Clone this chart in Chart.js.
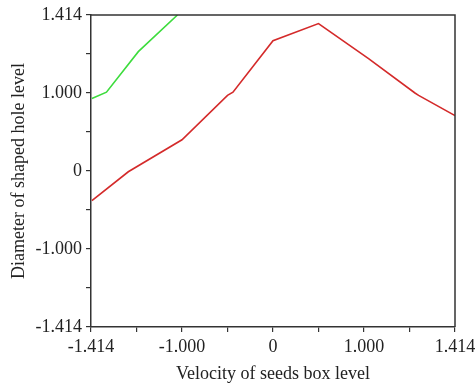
<!DOCTYPE html>
<html lang="en">
<head>
    <meta charset="UTF-8">
    <title>Diameter of shaped hole level vs Velocity of seeds box level</title>
    <script src="https://cdn.jsdelivr.net/npm/chart.js"></script>
    <style>
        html, body {
            margin: 0;
            padding: 0;
            background: #fff;
        }
        #wrap {
            width: 476px;
            height: 387px;
        }
    </style>
</head>
<body>
    <div id="wrap"><canvas id="chart" width="476" height="387"></canvas></div>

    <script>
        // coded axis positions and the labels printed at them
        const tickPositions = [-2, -1, 0, 1, 2];
        const tickLabels = ["-1.414", "-1.000", "0", "1.000", "1.414"];

        // red curve (coded units)
        const redX = [-1.99, -1.59, -1.0, -0.50, -0.44, 0.0, 0.5, 1.05, 1.56, 1.60, 2.0];
        const redY = [-0.38, -0.01, 0.40, 0.97, 1.01, 1.67, 1.89, 1.44, 1.00, 0.97, 0.71];

        // green curve (coded units)
        const greenX = [-1.99, -1.83, -1.48, -1.05];
        const greenY = [0.93, 1.01, 1.53, 2.0];

        const toPoints = (xs, ys) => xs.map((x, i) => ({ x: x, y: ys[i] }));

        function labelFor(value) {
            const i = tickPositions.indexOf(value);
            return i >= 0 ? tickLabels[i] : "";
        }

        const font = { family: "'Liberation Serif', 'Times New Roman', serif", size: 18 };
        const titleFont = { family: "'Liberation Serif', 'Times New Roman', serif", size: 18 };
        const ink = "#222";
        const axisColor = "#333";

        // top and right frame lines
        const framePlugin = {
            id: "frame",
            afterDatasetsDraw(chart) {
                const a = chart.chartArea;
                const ctx = chart.ctx;
                ctx.save();
                ctx.strokeStyle = axisColor;
                ctx.lineWidth = 1.5;
                ctx.beginPath();
                ctx.moveTo(a.left, a.top);
                ctx.lineTo(a.right, a.top);
                ctx.lineTo(a.right, a.bottom);
                ctx.stroke();
                ctx.restore();
            }
        };

        new Chart(document.getElementById("chart"), {
            type: "line",
            data: {
                datasets: [
                    {
                        data: toPoints(redX, redY),
                        borderColor: "#d42a2a",
                        borderWidth: 1.6,
                        pointRadius: 0,
                        tension: 0,
                        fill: false
                    },
                    {
                        data: toPoints(greenX, greenY),
                        borderColor: "#3ddc3d",
                        borderWidth: 1.6,
                        pointRadius: 0,
                        tension: 0,
                        fill: false
                    }
                ]
            },
            options: {
                responsive: false,
                animation: false,
                layout: { padding: { top: 15, right: 21, left: 0, bottom: 2 } },
                plugins: {
                    legend: { display: false },
                    tooltip: { enabled: false }
                },
                scales: {
                    x: {
                        type: "linear",
                        min: -2,
                        max: 2,
                        afterFit(scale) {
                            scale.height = 58;
                            scale.paddingLeft = 0;
                            scale.paddingRight = 0;
                        },
                        ticks: {
                            stepSize: 0.5,
                            autoSkip: false,
                            maxRotation: 0,
                            color: ink,
                            font: font,
                            padding: 4,
                            callback: labelFor
                        },
                        grid: {
                            drawOnChartArea: false,
                            drawTicks: true,
                            tickLength: 5,
                            color: axisColor,
                            lineWidth: 1.2
                        },
                        border: { display: true, color: axisColor, width: 1.5 },
                        title: {
                            display: true,
                            text: "Velocity of seeds box level",
                            color: ink,
                            font: titleFont,
                            padding: { top: 2, bottom: 0 }
                        }
                    },
                    y: {
                        type: "linear",
                        min: -2,
                        max: 2,
                        afterFit(scale) {
                            scale.width = 91;
                            scale.paddingTop = 0;
                            scale.paddingBottom = 0;
                        },
                        ticks: {
                            stepSize: 0.5,
                            autoSkip: false,
                            color: ink,
                            font: font,
                            padding: 4,
                            callback: labelFor
                        },
                        grid: {
                            drawOnChartArea: false,
                            drawTicks: true,
                            tickLength: 5,
                            color: axisColor,
                            lineWidth: 1.2
                        },
                        border: { display: true, color: axisColor, width: 1.5 },
                        title: {
                            display: true,
                            text: "Diameter of shaped hole level",
                            color: ink,
                            font: titleFont,
                            padding: { top: 8, bottom: 0 }
                        }
                    }
                }
            },
            plugins: [framePlugin]
        });
    </script>
</body>
</html>
